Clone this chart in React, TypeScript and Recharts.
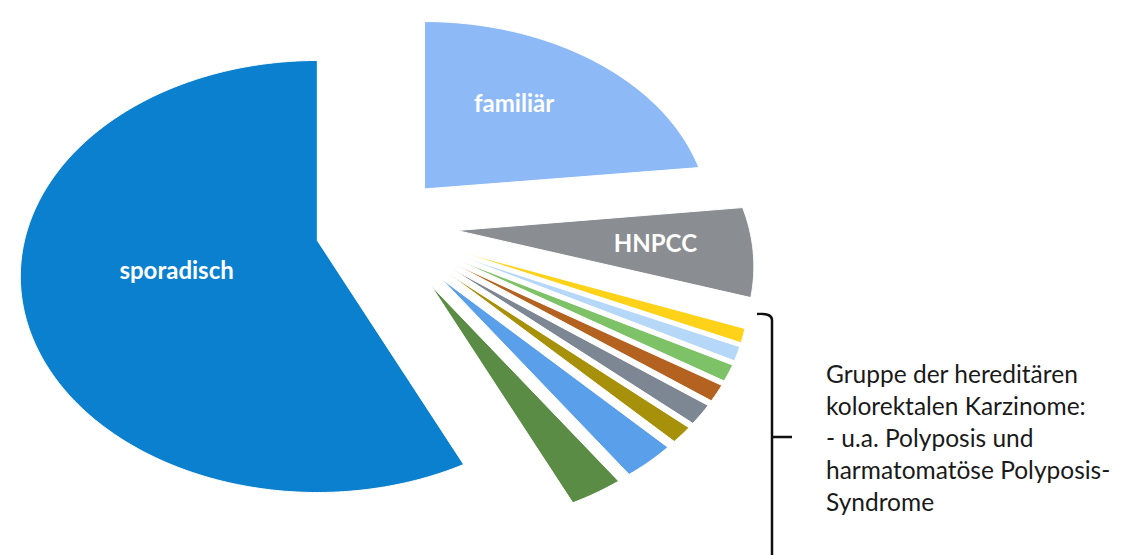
import { PieChart, Pie, Cell } from 'recharts';

// slice names, clockwise from 12 o'clock
const categories = [
  'familiär',
  'HNPCC',
  'hereditär 1',
  'hereditär 2',
  'hereditär 3',
  'hereditär 4',
  'hereditär 5',
  'hereditär 6',
  'hereditär 7',
  'hereditär 8',
  'sporadisch',
];

// share in percent
const shares = [20.6, 6.7, 1.2, 1.2, 1.4, 1.4, 1.7, 1.4, 3.1, 3.1, 58.2];

const sliceColors = [
  '#8DB9F7',
  '#8A8D91',
  '#FFD21A',
  '#B5D7F8',
  '#7DC266',
  '#B4621F',
  '#7D8794',
  '#A8910A',
  '#5A9FEA',
  '#5B8C45',
  '#0A80CE',
];

const noteLines = [
  'Gruppe der hereditären',
  'kolorektalen Karzinome:',
  '- u.a. Polyposis und',
  'harmatomatöse Polyposis-',
  'Syndrome',
];

const W = 1126;
const H = 555;
const CX = 381;
const CY = 222;
const RX = 297;
const RY = 216;
const EXPLODE_X = 71;
const EXPLODE_Y = 53;

// fake-3D look: how far each slice is pulled out, its squash and how much the near rim drops
type Look = { pull: number; dx: number; dy: number; sx: number; sy: number; drop: number };
const groupLook: Look = { pull: 1, dx: 4, dy: 15, sx: 0.97, sy: 0.896, drop: 49 };
const sliceLooks: Record<string, Look> = {
  familiär: { pull: 0.9, dx: 0, dy: 0, sx: 0.96, sy: 0.93, drop: 33.5 },
  HNPCC: { pull: 1, dx: 0, dy: 7, sx: 1, sy: 1, drop: 36 },
  sporadisch: { pull: 1, dx: 0, dy: 0, sx: 1, sy: 1, drop: 36 },
};
const lookOf = (name: string) => sliceLooks[name] ?? groupLook;

const labelSpots: Record<string, { f: number; dy: number }> = {
  sporadisch: { f: 0.49, dy: 2 },
  familiär: { f: 0.5, dy: 0 },
  HNPCC: { f: 0.67, dy: 22 },
};

const rad = (d: number) => (d * Math.PI) / 180;

function apexOf(cx: number, cy: number, midAngle: number, look: Look) {
  const t = rad(90 - midAngle);
  return {
    x: cx + look.pull * EXPLODE_X * Math.sin(t) + look.dx,
    y: cy - look.pull * EXPLODE_Y * Math.cos(t) + look.dy,
  };
}

function EllipseSlice(props: any) {
  const { cx = CX, cy = CY, startAngle, endAngle, midAngle, fill, name } = props;
  const look = lookOf(name);
  const a = apexOf(cx, cy, midAngle, look);
  const t0 = 90 - startAngle;
  const t1 = 90 - endAngle;
  const steps = Math.max(2, Math.ceil(Math.abs(t1 - t0) * 2));
  let d = `M${a.x},${a.y}`;
  for (let i = 0; i <= steps; i++) {
    const t = rad(t0 + ((t1 - t0) * i) / steps);
    d += ` L${a.x + look.sx * RX * Math.sin(t)},${a.y + look.drop - look.sy * RY * Math.cos(t)}`;
  }
  d += ' Z';
  return <path d={d} fill={fill} stroke="#FFFFFF" strokeWidth={1} />;
}

function SliceLabel(props: any) {
  const { cx = CX, cy = CY, midAngle, name } = props;
  const spot = labelSpots[name];
  if (!spot) return null;
  const a = apexOf(cx, cy, midAngle, lookOf(name));
  const t = rad(90 - midAngle);
  const x = a.x + spot.f * RX * Math.sin(t);
  const y = a.y - spot.f * RY * Math.cos(t) + spot.dy;
  return (
    <text
      x={x}
      y={y}
      fill="#FFFFFF"
      fontFamily="Lato, 'Open Sans', sans-serif"
      fontWeight={700}
      fontSize={24}
      textAnchor="middle"
      dominantBaseline="central"
    >
      {name}
    </text>
  );
}

export default function App() {
  const data = categories.map((name, i) => ({ name, value: shares[i] }));

  return (
    <div
      style={{
        position: 'absolute',
        left: 0,
        top: 0,
        width: W,
        height: H,
        background: '#FFFFFF',
        overflow: 'hidden',
      }}
    >
      <PieChart width={W} height={H}>
        <Pie
          data={data}
          dataKey="value"
          nameKey="name"
          cx={CX}
          cy={CY}
          outerRadius={RX}
          startAngle={90}
          endAngle={-270}
          stroke="none"
          shape={EllipseSlice}
          inactiveShape={EllipseSlice}
          activeShape={EllipseSlice}
          label={SliceLabel}
          labelLine={false}
          isAnimationActive={false}
        >
          {data.map((d, i) => (
            <Cell key={d.name} fill={sliceColors[i]} />
          ))}
        </Pie>
      </PieChart>

      <svg
        width={W}
        height={H}
        style={{ position: 'absolute', left: 0, top: 0, pointerEvents: 'none' }}
      >
        <path
          d="M757 314 Q772 313 772 320 L772 555 M772 437 L792 437"
          fill="none"
          stroke="#111111"
          strokeWidth={2.5}
        />
      </svg>

      <div
        style={{
          position: 'absolute',
          left: 826,
          top: 358,
          fontFamily: "Lato, 'Open Sans', sans-serif",
          fontSize: 24.5,
          lineHeight: '32px',
          color: '#1A1A1A',
          whiteSpace: 'nowrap',
        }}
      >
        {noteLines.map((l) => (
          <div key={l}>{l}</div>
        ))}
      </div>
    </div>
  );
}
